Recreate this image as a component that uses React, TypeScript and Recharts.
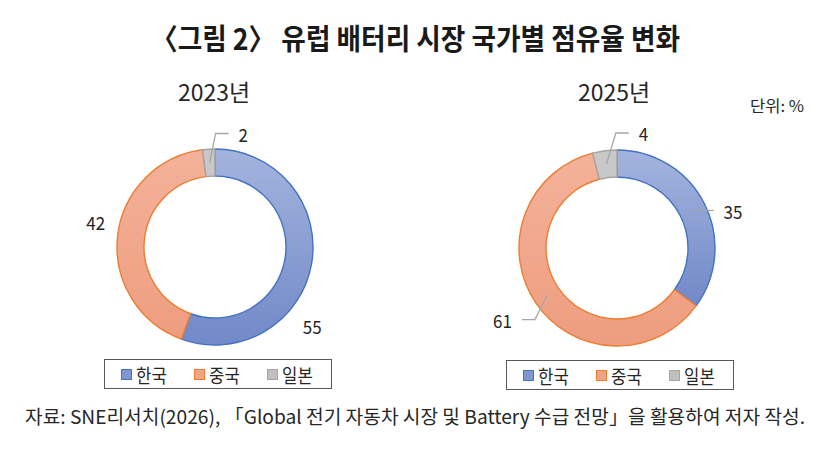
import { PieChart, Pie, Cell, Legend } from 'recharts'

const countries = ['한국', '중국', '일본']
const share2023 = [55, 42, 2]
const share2025 = [35, 61, 4]

const FONT = '"Noto Sans CJK KR", "Noto Sans", sans-serif'
const TEXT = '#262626'
const STROKES = ['#4472c4', '#ed7d31', '#a5a5a5']
const FILLS = ['url(#gBlue)', 'url(#gOrange)', '#c8c8c8']
const SWATCH = ['#7f96cf', '#f0a487', '#c0c0c0']

// label placement: angle clockwise from 12 o'clock, distance from centre
type LabelPos = { a: number; r: number; leader: boolean }
const labels2023: LabelPos[] = [
  { a: 129, r: 125, leader: false },
  { a: 282, r: 122, leader: false },
  { a: 14, r: 117, leader: true },
]
const labels2025: LabelPos[] = [
  { a: 72, r: 122, leader: true },
  { a: 238, r: 135, leader: true },
  { a: 13, r: 118, leader: true },
]

const RAD = Math.PI / 180

const makeLabel = (pos: LabelPos[]) => (p: any) => {
  const { cx, cy, midAngle, innerRadius, outerRadius, index, value } = p
  const lp = pos[index]
  const tx = cx + lp.r * Math.sin(lp.a * RAD)
  const ty = cy - lp.r * Math.cos(lp.a * RAD)
  let leader = null
  if (lp.leader) {
    const mr = (innerRadius + outerRadius) / 2
    const sx = cx + mr * Math.cos(-midAngle * RAD)
    const sy = cy + mr * Math.sin(-midAngle * RAD)
    const dir = tx >= cx ? 1 : -1
    const half = String(value).length * 4.7
    const ex = tx - dir * (half + 10)
    const bx = ex - dir * 13
    leader = <polyline points={`${sx},${sy} ${bx},${ty} ${ex},${ty}`} fill="none" stroke="#a6a6a6" strokeWidth={1.3} />
  }
  return (
    <g key={`lb-${index}`}>
      {leader}
      <text x={tx} y={ty} textAnchor="middle" dominantBaseline="central"
        fontSize={18.5} fontFamily={FONT} fill={TEXT}
        transform={`translate(${tx} ${ty}) scale(0.92 1) translate(${-tx} ${-ty})`}>{value}</text>
    </g>
  )
}

const LegendBox = () => (
  <div style={{
    width: 218, height: 28, border: '1px solid #595959', boxSizing: 'content-box',
    display: 'flex', alignItems: 'center', justifyContent: 'space-around',
    padding: '0 4px', fontFamily: FONT, fontSize: 19, color: TEXT, background: '#fff',
  }}>
    {countries.map((c, i) => (
      <span key={c} style={{ display: 'flex', alignItems: 'center' }}>
        <span style={{ width: 9, height: 9, background: SWATCH[i], border: `1px solid ${STROKES[i]}`, marginRight: 2 }} />
        <span style={{ transform: 'scaleX(0.88)', display: 'inline-block' }}>{c}</span>
      </span>
    ))}
  </div>
)

const Defs = () => (
  <defs>
    <linearGradient id="gBlue" x1="0" y1="0" x2="0" y2="1">
      <stop offset="0%" stopColor="#a3b4dd" />
      <stop offset="100%" stopColor="#7189c8" />
    </linearGradient>
    <linearGradient id="gOrange" x1="0" y1="0" x2="0" y2="1">
      <stop offset="0%" stopColor="#f4b29a" />
      <stop offset="100%" stopColor="#ee9d7f" />
    </linearGradient>
  </defs>
)

function Donut({ values, pos, left, top }: { values: number[]; pos: LabelPos[]; left: number; top: number }) {
  const data = countries.map((name, i) => ({ name, value: values[i] }))
  return (
    <div style={{ position: 'absolute', left, top }}>
      <PieChart width={300} height={300} margin={{ top: 0, right: 0, bottom: 0, left: 0 }}>
        <Defs />
        <Pie data={data} dataKey="value" nameKey="name" cx={150} cy={150}
          innerRadius={71} outerRadius={98} startAngle={90} endAngle={-270}
          label={makeLabel(pos)} labelLine={false} isAnimationActive={false}>
          {data.map((d, i) => (
            <Cell key={d.name} fill={FILLS[i]} stroke={STROKES[i]} strokeWidth={1.4} />
          ))}
        </Pie>
        <Legend content={<LegendBox />}
          wrapperStyle={{ position: 'absolute', left: 39, top: 262, width: 228, height: 30 }} />
      </PieChart>
    </div>
  )
}

export default function App() {
  return (
    <div style={{ position: 'absolute', left: 0, top: 0, width: 824, height: 451, background: '#fff' }}>
      <Donut values={share2023} pos={labels2023} left={65} top={97} />
      <Donut values={share2025} pos={labels2025} left={467} top={98} />
      <svg width={824} height={451} style={{ position: 'absolute', left: 0, top: 0, pointerEvents: 'none' }}>
        <text x={151} y={50} fontSize={29} fontWeight={700} fontFamily={FONT} fill="#1a1a1a"
          textLength={529} lengthAdjust="spacingAndGlyphs">〈그림 2〉 유럽 배터리 시장 국가별 점유율 변화</text>
        <text x={178} y={101} fontSize={23} fontFamily={FONT} fill={TEXT}
          textLength={72} lengthAdjust="spacingAndGlyphs">2023년</text>
        <text x={578} y={101} fontSize={23} fontFamily={FONT} fill={TEXT}
          textLength={72} lengthAdjust="spacingAndGlyphs">2025년</text>
        <text x={750} y={112} fontSize={15.5} fontFamily={FONT} fill={TEXT}
          textLength={54} lengthAdjust="spacingAndGlyphs">단위: %</text>
        <text x={25} y={424} fontSize={19} fontFamily={FONT} fill={TEXT}
          textLength={780} lengthAdjust="spacingAndGlyphs">자료: SNE리서치(2026), 「Global 전기 자동차 시장 및 Battery 수급 전망」을 활용하여 저자 작성.</text>
      </svg>
    </div>
  )
}
